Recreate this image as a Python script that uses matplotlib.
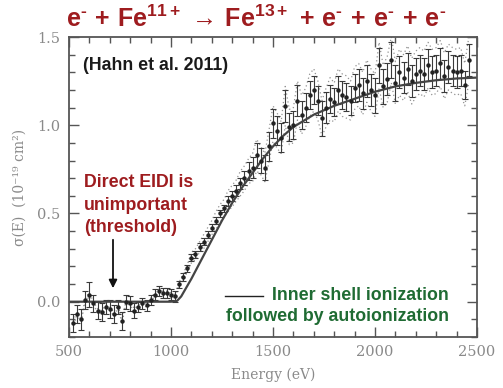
import numpy as np
import matplotlib
matplotlib.use("Agg")
import matplotlib.pyplot as plt

# Measured cross section (Hahn et al. 2011), 20 eV steps
energy = np.arange(520, 2480, 20)
sigma = [-0.12, -0.07, -0.10, 0.01, 0.04, -0.01, -0.05, -0.06, -0.03, -0.04,
         -0.07, -0.03, -0.11, 0.00, -0.01, -0.05, -0.03, -0.01, -0.02, 0.01,
         0.04, 0.06, 0.05, 0.05, 0.04, 0.03, 0.10, 0.14, 0.19, 0.25,
         0.27, 0.31, 0.34, 0.38, 0.42, 0.46, 0.50, 0.53, 0.57, 0.60,
         0.63, 0.67, 0.70, 0.74, 0.76, 0.83, 0.80, 0.76, 0.88, 1.01,
         0.97, 0.93, 1.11, 0.99, 1.00, 1.14, 1.06, 1.10, 1.17, 1.20,
         1.14, 1.04, 1.10, 1.15, 1.13, 1.20, 1.17, 1.16, 1.14, 1.21,
         1.23, 1.18, 1.25, 1.20, 1.17, 1.34, 1.22, 1.26, 1.37, 1.24,
         1.30, 1.27, 1.32, 1.25, 1.29, 1.31, 1.29, 1.34, 1.30, 1.31,
         1.35, 1.28, 1.33, 1.31, 1.30, 1.31, 1.23, 1.37]
sigma_err = [0.05, 0.05, 0.06, 0.05, 0.07, 0.05, 0.05, 0.05, 0.04, 0.05,
             0.05, 0.04, 0.05, 0.04, 0.04, 0.04, 0.03, 0.03, 0.03, 0.03,
             0.03, 0.03, 0.03, 0.03, 0.03, 0.03, 0.02, 0.02, 0.02, 0.02,
             0.02, 0.02, 0.02, 0.02, 0.02, 0.02, 0.02, 0.02, 0.03, 0.03,
             0.03, 0.03, 0.04, 0.05, 0.06, 0.07, 0.07, 0.07, 0.08, 0.08,
             0.08, 0.08, 0.09, 0.08, 0.08, 0.09, 0.08, 0.08, 0.08, 0.08,
             0.08, 0.10, 0.09, 0.08, 0.08, 0.08, 0.08, 0.08, 0.08, 0.08,
             0.09, 0.09, 0.09, 0.09, 0.10, 0.10, 0.10, 0.09, 0.10, 0.10,
             0.09, 0.09, 0.09, 0.09, 0.09, 0.09, 0.09, 0.09, 0.09, 0.09,
             0.09, 0.09, 0.09, 0.09, 0.09, 0.09, 0.08, 0.09]
sys_upper = [-0.11, -0.06, -0.09, 0.02, 0.05, 0.00, -0.04, -0.05, -0.02, -0.03,
             -0.06, -0.02, -0.10, 0.01, 0.00, -0.04, -0.02, 0.00, -0.01, 0.02,
             0.05, 0.07, 0.06, 0.06, 0.05, 0.04, 0.11, 0.16, 0.21, 0.28,
             0.30, 0.34, 0.38, 0.42, 0.46, 0.51, 0.55, 0.58, 0.63, 0.66,
             0.69, 0.74, 0.77, 0.81, 0.84, 0.92, 0.88, 0.84, 0.97, 1.11,
             1.07, 1.02, 1.22, 1.09, 1.10, 1.25, 1.17, 1.21, 1.29, 1.32,
             1.25, 1.14, 1.21, 1.27, 1.24, 1.32, 1.29, 1.28, 1.25, 1.33,
             1.35, 1.30, 1.37, 1.32, 1.29, 1.47, 1.34, 1.39, 1.50, 1.36,
             1.43, 1.40, 1.45, 1.38, 1.42, 1.44, 1.42, 1.47, 1.43, 1.44,
             1.48, 1.41, 1.46, 1.44, 1.43, 1.44, 1.35, 1.50]
sys_lower = [-0.13, -0.08, -0.11, 0.00, 0.03, -0.02, -0.06, -0.07, -0.04, -0.05,
             -0.08, -0.04, -0.12, -0.01, -0.02, -0.06, -0.04, -0.02, -0.03, 0.00,
             0.03, 0.05, 0.04, 0.04, 0.03, 0.02, 0.09, 0.12, 0.17, 0.22,
             0.24, 0.28, 0.30, 0.34, 0.38, 0.41, 0.45, 0.48, 0.51, 0.54,
             0.57, 0.60, 0.63, 0.67, 0.68, 0.74, 0.72, 0.68, 0.79, 0.91,
             0.87, 0.84, 1.00, 0.89, 0.90, 1.03, 0.95, 0.99, 1.05, 1.08,
             1.03, 0.94, 0.99, 1.03, 1.02, 1.08, 1.05, 1.04, 1.03, 1.09,
             1.11, 1.06, 1.13, 1.08, 1.05, 1.21, 1.10, 1.13, 1.24, 1.12,
             1.17, 1.14, 1.19, 1.12, 1.16, 1.18, 1.16, 1.21, 1.17, 1.18,
             1.22, 1.15, 1.20, 1.18, 1.17, 1.18, 1.11, 1.24]

# Theory: inner shell ionization followed by autoionization
theory_E = [500, 1000, 1030, 1050, 1075, 1100, 1150, 1200, 1250, 1300, 1350,
            1400, 1450, 1500, 1550, 1600, 1700, 1800, 1900, 2000, 2100, 2200,
            2300, 2400, 2500]
theory_y = [0.0, 0.0, 0.005, 0.03, 0.08, 0.13, 0.24, 0.35, 0.46, 0.56, 0.65,
            0.73, 0.81, 0.88, 0.94, 0.99, 1.06, 1.11, 1.15, 1.19, 1.22, 1.24,
            1.255, 1.265, 1.27]

W, H = 503, 388
RED = "#9e1c1f"
GREEN = "#1f6b33"
GREY = "#8a8a8a"

def fx(px):
    return px / W

def fy(py):
    return 1 - py / H

fig = plt.figure(figsize=(W / 100, H / 100), dpi=100)
ax = fig.add_axes([fx(69), fy(337), (477 - 69) / W, (337 - 37) / H])

ax.plot(energy, sys_upper, ls=(0, (1, 2.2)), color="#939393", lw=0.9)
ax.plot(energy, sys_lower, ls=(0, (1, 2.2)), color="#939393", lw=0.9)
ax.errorbar(energy, sigma, yerr=sigma_err, fmt="o", ms=2.2, color="#222222",
            ecolor="#3a3a3a", elinewidth=0.8, capsize=2.2, capthick=0.8)
ax.plot(theory_E, theory_y, color="#444444", lw=1.6)

ax.set_xlim(500, 2500)
ax.set_ylim(-0.2, 1.5)
ax.set_xticks([500, 1000, 1500, 2000, 2500])
ax.set_xticks(np.arange(500, 2501, 100), minor=True)
ax.set_yticks([0.0, 0.5, 1.0, 1.5])
ax.set_yticks(np.arange(-0.2, 1.51, 0.1), minor=True)
ax.set_yticklabels(["0.0", "0.5", "1.0", "1.5"])
ax.tick_params(which="both", direction="in", top=True, right=True,
               color="#555555", width=1.0, labelcolor=GREY,
               labelsize=10.5, pad=6)
ax.tick_params(which="major", length=7)
ax.tick_params(which="minor", length=4)
for lab in ax.get_xticklabels() + ax.get_yticklabels():
    lab.set_family("DejaVu Serif")
for s in ax.spines.values():
    s.set_color("#555555")
    s.set_linewidth(1.3)

ax.set_xlabel("Energy (eV)", family="DejaVu Serif", color=GREY, fontsize=10,
              labelpad=6)
ax.set_ylabel("σ(E)  (10⁻¹⁹ cm²)", family="DejaVu Serif", color=GREY,
              fontsize=10, labelpad=8)

plt.rcParams["mathtext.fontset"] = "custom"
plt.rcParams["mathtext.rm"] = "Liberation Sans:bold"
plt.rcParams["mathtext.it"] = "Liberation Sans:bold"
plt.rcParams["mathtext.bf"] = "Liberation Sans:bold"
title = (r"$\mathrm{e^{\text{-}}\,+\,Fe^{11+}\,\rightarrow\,Fe^{13+}"
         r"\,+\,e^{\text{-}}\,+\,e^{\text{-}}\,+\,e^{\text{-}}}$")
fig.text(fx(256), fy(19), title, color=RED, fontsize=18,
         ha="center", va="center")

fig.text(fx(83), fy(66), "(Hahn et al. 2011)", family="Liberation Sans",
         weight="bold", fontsize=12.8, color="#1a1a1a", va="center")
fig.text(fx(84), fy(205), "Direct EIDI is\nunimportant\n(threshold)",
         family="Liberation Sans", weight="bold", fontsize=12.8, color=RED,
         va="center", linespacing=1.4)
ax.annotate("", xy=(fx(113), fy(291)), xytext=(fx(113), fy(237)),
            xycoords="figure fraction", textcoords="figure fraction",
            arrowprops=dict(arrowstyle="-|>", color="#111111", lw=1.3,
                            mutation_scale=12))
fig.add_artist(plt.Line2D([fx(225), fx(263)], [fy(296), fy(296)],
                          color="#222222", lw=1.0))
fig.text(fx(449), fy(306), "Inner shell ionization\nfollowed by autoionization",
         family="Liberation Sans", weight="bold", fontsize=12.8, color=GREEN,
         va="center", ha="right", linespacing=1.35)

fig.savefig("out.png", dpi=100)
